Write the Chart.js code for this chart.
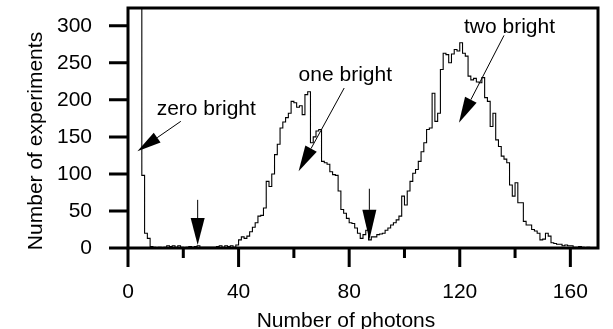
<!DOCTYPE html>
<html>
<head>
<meta charset="utf-8">
<title>Photon counting histogram</title>
<script src="https://cdn.jsdelivr.net/npm/chart.js@4.4.1/dist/chart.umd.min.js"></script>
<style>
  html, body { margin: 0; padding: 0; background: #fff; }
  canvas { display: block; }
</style>
</head>
<body>
<canvas id="chart" width="613" height="329"></canvas>
<script>
  //Histogram bins (left edge, in photons) and number of experiments per bin
  const photons = [
    4, 5, 6, 7, 8, 9, 10, 11, 12, 13,
    14, 15, 16, 17, 18, 19, 20, 21, 22, 23,
    24, 25, 26, 27, 28, 29, 30, 31, 32, 33,
    34, 35, 36, 37, 38, 39, 40, 41, 42, 43,
    44, 45, 46, 47, 48, 49, 50, 51, 52, 53,
    54, 55, 56, 57, 58, 59, 60, 61, 62, 63,
    64, 65, 66, 67, 68, 69, 70, 71, 72, 73,
    74, 75, 76, 77, 78, 79, 80, 81, 82, 83,
    84, 85, 86, 87, 88, 89, 90, 91, 92, 93,
    94, 95, 96, 97, 98, 99, 100, 101, 102, 103,
    104, 105, 106, 107, 108, 109, 110, 111, 112, 113,
    114, 115, 116, 117, 118, 119, 120, 121, 122, 123,
    124, 125, 126, 127, 128, 129, 130, 131, 132, 133,
    134, 135, 136, 137, 138, 139, 140, 141, 142, 143,
    144, 145, 146, 147, 148, 149, 150, 151, 152, 153,
    154, 155, 156, 157, 158, 159, 160, 161, 162, 163,
    164, 165, 166, 167, 168, 169
  ];
  const counts = [
    900, 98, 20, 13, 2, 1, 0, 1, 0, 1,
    3, 2, 3, 1, 3, 1, 0, 1, 2, 1,
    2, 3, 1, 1, 1, 1, 1, 1, 2, 3,
    1, 3, 2, 3, 1, 4, 11, 15, 13, 16,
    22, 28, 34, 43, 44, 54, 90, 83, 100, 126,
    140, 162, 170, 176, 182, 198, 196, 190, 192, 180,
    207, 211, 142, 150, 158, 160, 117, 115, 113, 103,
    99, 98, 77, 52, 47, 40, 34, 33, 27, 20,
    13, 18, 24, 11, 15, 15, 18, 19, 20, 24,
    27, 31, 34, 38, 43, 70, 58, 77, 90, 101,
    106, 117, 130, 142, 160, 162, 209, 171, 182, 241,
    263, 261, 250, 262, 268, 266, 277, 263, 259, 232,
    227, 229, 224, 223, 230, 203, 198, 164, 182, 146,
    137, 124, 120, 115, 85, 70, 88, 61, 61, 36,
    31, 31, 25, 23, 20, 11, 12, 20, 16, 7,
    6, 5, 5, 3, 4, 3, 3, 1, 1, 2,
    1, 0, 1, 0, 0, 0
  ];
  const binWidth = 1;

  const xTitle = "Number of photons";
  const yTitle = "Number of experiments";

  //Peak labels, placed in axis units (baseline centre)
  const peakNames = ["zero bright", "one bright", "two bright"];
  const peakNameX = [28.3, 78.6, 138];
  const peakNameY = [179, 226, 290.5];

  //Arrows in axis units: tail -> tip
  const arrows = [
    { from: [19.1, 171], to: [3.4, 130.5], head: 24, width: 12 },
    { from: [78.2, 216], to: [61.7, 103.5], head: 26, width: 13 },
    { from: [136, 287], to: [119.7, 169], head: 26, width: 13 },
    { from: [25.2, 65], to: [25.2, 4], head: 27, width: 14 },
    { from: [87.3, 80], to: [87.3, 11], head: 30, width: 14 }
  ];

  //Get context for drawing
  let canvas = window.document.querySelector("canvas");
  let context = canvas.getContext("2d");

  const fontName = "'Liberation Sans', Arial, Helvetica, sans-serif";
  Chart.defaults.font.family = fontName;
  Chart.defaults.font.size = 21;
  Chart.defaults.color = "#000";

  const drawArrow = (ctx, x0, y0, x1, y1, len, width) => {
    let ang = Math.atan2(y1 - y0, x1 - x0);
    let bx = x1 - len * Math.cos(ang);
    let by = y1 - len * Math.sin(ang);
    let sx = (width / 2) * Math.sin(ang);
    let sy = (width / 2) * Math.cos(ang);
    ctx.lineWidth = 1;
    ctx.beginPath();
    ctx.moveTo(x0, y0);
    ctx.lineTo(bx, by);
    ctx.stroke();
    ctx.beginPath();
    ctx.moveTo(x1, y1);
    ctx.lineTo(bx + sx, by - sy);
    ctx.lineTo(bx - sx, by + sy);
    ctx.closePath();
    ctx.fill();
  };

  //Box, outward tick marks, axis titles, labels and arrows
  const framePlugin = {
    id: "frame",
    afterDatasetsDraw(chart) {
      let ctx = chart.ctx;
      let a = chart.chartArea;
      let xs = chart.scales.x;
      let ys = chart.scales.y;
      ctx.save();
      ctx.strokeStyle = "#000";
      ctx.fillStyle = "#000";
      ctx.lineWidth = 3;
      ctx.strokeRect(a.left, a.top, a.right - a.left, a.bottom - a.top);
      ctx.beginPath();
      ys.ticks.forEach((t) => {
        let py = ys.getPixelForValue(t.value);
        ctx.moveTo(a.left - 19, py);
        ctx.lineTo(a.left, py);
      });
      xs.ticks.forEach((t) => {
        let px = xs.getPixelForValue(t.value);
        ctx.moveTo(px, a.bottom);
        ctx.lineTo(px, a.bottom + (t.value % 40 === 0 ? 19 : 10));
      });
      ctx.stroke();

      ctx.font = "21px " + fontName;
      ctx.textAlign = "center";

      //axis titles sit a little left of / below the plot centre
      ctx.textBaseline = "alphabetic";
      ctx.fillText(xTitle, (a.left + a.right) / 2 - 17, chart.height - 2);
      ctx.save();
      ctx.translate(36.5, (a.top + a.bottom) / 2 + 13);
      ctx.rotate(-Math.PI / 2);
      ctx.textBaseline = "middle";
      ctx.fillText(yTitle, 0, 0);
      ctx.restore();

      ctx.textBaseline = "alphabetic";
      for (let i = 0; i < peakNames.length; i++) {
        ctx.fillText(peakNames[i], xs.getPixelForValue(peakNameX[i]), ys.getPixelForValue(peakNameY[i]));
      }
      arrows.forEach((ar) => {
        drawArrow(ctx,
          xs.getPixelForValue(ar.from[0]), ys.getPixelForValue(ar.from[1]),
          xs.getPixelForValue(ar.to[0]), ys.getPixelForValue(ar.to[1]),
          ar.head, ar.width);
      });
      ctx.restore();
    }
  };

  const createHistogram = (xData, yData) => {
    let points = xData.map((x, i) => ({ x: x, y: yData[i] }));
    //close the last bin
    points.push({ x: xData[xData.length - 1] + binWidth, y: yData[yData.length - 1] });

    let data = {
      datasets: [
        {
          label: "Experiments",
          data: points,
          stepped: "before",
          borderColor: "#000",
          borderWidth: 1.1,
          pointRadius: 0,
          fill: false,
        },
      ],
    };

    let xScaleConfig = {
      type: "linear",
      min: 0,
      max: 170,
      grid: { display: false, drawTicks: false },
      border: { display: false },
      ticks: {
        stepSize: 20,
        includeBounds: false,
        autoSkip: false,
        maxRotation: 0,
        padding: 32,
        callback: (v) => (v % 40 === 0 ? v : ""),
      },
      afterFit: (s) => {
        s.height = 81;
        s.paddingLeft = 0;
        s.paddingRight = 0;
      },
    };

    let yScaleConfig = {
      min: 0,
      max: 324,
      grid: { display: false, drawTicks: false },
      border: { display: false },
      ticks: { stepSize: 50, includeBounds: false, padding: 36 },
      afterFit: (s) => {
        s.width = 128;
        s.paddingTop = 0;
        s.paddingBottom = 0;
      },
    };

    let config = {
      type: "line",
      data: data,
      options: {
        responsive: false,
        animation: false,
        layout: { padding: { left: 0, top: 8, right: 15, bottom: 0 } },
        plugins: { legend: { display: false }, tooltip: { enabled: false } },
        scales: {
          x: xScaleConfig,
          y: yScaleConfig,
        },
      },
      plugins: [framePlugin],
    };
    let chart = new Chart(context, config);
  };

  createHistogram(photons, counts);
</script>
</body>
</html>
